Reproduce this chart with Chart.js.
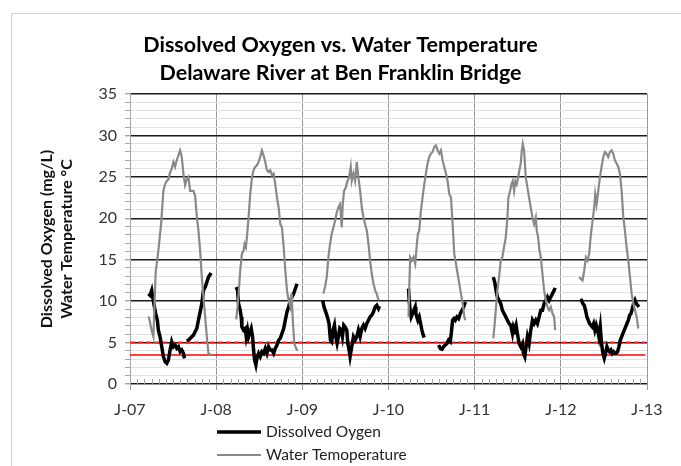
<!DOCTYPE html>
<html><head><meta charset="utf-8">
<script src="https://cdn.jsdelivr.net/npm/chart.js@4.4.1/dist/chart.umd.min.js"></script>
<style>html,body{margin:0;padding:0;background:#fff}</style>
</head><body>
<canvas id="c" width="681" height="466" style="width:681px;height:466px;display:block"></canvas>
<script>
// x values are months since January 2007
const yearLabels = ['J-07','J-08','J-09','J-10','J-11','J-12','J-13'];
const seriesNames = ['Dissolved Oygen','Water Temoperature'];
const refLow = 3.5, refHigh = 5;

const wt2007 = [[2.50,8.1],[2.65,8.0],[3.00,6.5],[3.26,5.7],[3.45,10.5],[3.58,13.5],[3.95,16.1],[4.33,19.3],[4.65,23.3],[4.88,24.1],[5.12,24.5],[5.35,24.7],[5.58,25.5],[5.81,26.0],[6.05,26.8],[6.28,26.2],[6.51,27.0],[6.74,27.6],[6.98,28.2],[7.21,27.4],[7.44,25.4],[7.67,24.0],[7.91,24.7],[8.14,25.0],[8.37,23.3],[8.84,23.3],[9.07,22.7],[9.30,20.3],[9.53,18.5],[9.77,16.1],[10.00,12.9],[10.23,10.5],[10.47,8.1],[10.70,5.7],[10.93,3.7],[11.30,3.5]];
const wt2008 = [[14.79,7.8],[14.98,9.3],[15.16,11.3],[15.35,13.7],[15.58,15.7],[15.81,16.1],[15.95,16.9],[16.14,16.5],[16.28,17.7],[16.51,20.1],[16.74,22.9],[16.98,24.9],[17.21,25.8],[17.44,26.2],[17.67,26.4],[17.91,26.8],[18.14,27.4],[18.37,28.2],[18.60,27.6],[18.84,26.8],[19.07,25.8],[19.30,25.6],[19.53,25.8],[19.77,25.2],[20.00,25.4],[20.23,24.1],[20.47,22.5],[20.70,21.3],[20.93,19.3],[21.16,18.9],[21.40,16.5],[21.63,13.7],[21.86,11.3],[22.09,10.1],[22.33,9.3],[22.47,10.9],[22.56,9.7],[22.70,7.3],[22.88,4.9],[23.12,4.3],[23.30,4.0]];
const wt2009 = [[26.93,10.9],[27.16,11.7],[27.40,12.9],[27.63,15.3],[27.86,16.9],[28.09,18.1],[28.33,18.9],[28.56,19.7],[28.79,20.7],[29.02,21.3],[29.26,21.7],[29.49,18.9],[29.63,21.7],[29.81,23.3],[30.05,23.7],[30.28,24.5],[30.51,24.9],[30.74,26.2],[30.88,24.5],[31.12,25.4],[31.35,24.5],[31.58,26.8],[31.81,24.9],[32.05,23.3],[32.28,21.3],[32.51,20.1],[32.74,19.3],[32.98,18.5],[33.21,16.9],[33.44,14.9],[33.67,13.3],[33.91,12.1],[34.14,11.3],[34.37,10.9],[34.60,10.1]];
const wt2010 = [[38.79,8.1],[38.88,11.3],[39.02,15.3],[39.26,14.9],[39.49,15.3],[39.72,14.5],[39.95,16.9],[40.09,18.1],[40.28,18.5],[40.51,20.9],[40.74,22.5],[40.98,24.1],[41.21,25.4],[41.44,26.6],[41.67,27.4],[41.91,27.8],[42.14,28.0],[42.37,28.6],[42.60,28.8],[42.84,28.2],[43.07,27.8],[43.30,28.2],[43.53,27.0],[43.77,26.2],[44.00,25.4],[44.23,24.5],[44.47,22.9],[44.70,22.5],[44.93,19.3],[45.16,15.7],[45.40,14.5],[45.63,13.3],[45.86,12.1],[46.09,10.9],[46.33,9.7],[46.56,8.1],[46.70,7.7]];
const wt2011 = [[50.60,5.5],[50.79,7.3],[50.98,9.3],[51.16,11.3],[51.40,12.9],[51.63,14.9],[51.86,15.3],[52.09,16.5],[52.33,17.7],[52.56,20.1],[52.70,22.5],[52.93,23.3],[53.12,24.1],[53.30,24.5],[53.49,23.3],[53.67,24.5],[53.86,24.1],[54.05,24.9],[54.23,25.8],[54.42,26.6],[54.56,28.2],[54.70,29.0],[54.88,28.2],[55.12,24.9],[55.35,23.7],[55.58,22.5],[55.81,21.3],[56.05,20.1],[56.28,19.3],[56.51,20.1],[56.65,18.5],[56.84,17.7],[57.02,16.1],[57.21,15.3],[57.44,13.3],[57.67,11.3],[57.91,10.1],[58.14,9.3],[58.37,8.9],[58.60,9.3],[58.84,8.5],[59.07,8.1],[59.21,6.5]];
const wt2012 = [[62.56,12.9],[62.79,12.7],[63.02,12.5],[63.26,13.7],[63.49,15.3],[63.72,14.9],[63.95,15.7],[64.19,18.1],[64.42,19.7],[64.65,21.3],[64.79,22.9],[64.98,21.7],[65.21,23.3],[65.44,24.9],[65.67,26.2],[65.91,27.4],[66.14,28.0],[66.37,27.8],[66.60,27.4],[66.84,28.0],[67.07,28.2],[67.30,27.8],[67.53,27.0],[67.77,26.6],[68.00,26.2],[68.23,25.4],[68.47,23.3],[68.70,20.1],[68.93,18.5],[69.16,16.5],[69.40,14.9],[69.63,12.9],[69.86,10.9],[70.09,9.7],[70.33,8.9],[70.56,8.1],[70.79,6.7]];

const do2007a = [[2.56,10.9],[2.79,10.7],[3.02,11.3],[3.16,10.5],[3.40,9.3],[3.58,8.5],[3.81,7.7],[3.95,6.5],[4.19,5.7],[4.42,4.5],[4.65,3.3],[4.88,2.7],[5.12,2.5],[5.35,2.9],[5.58,4.1],[5.81,5.1],[6.05,4.5],[6.28,4.7],[6.51,4.3],[6.74,4.5],[6.98,3.9],[7.21,4.1],[7.44,3.7],[7.58,3.1]];
const do2007b = [[7.90,5.2],[8.14,5.3],[8.37,5.5],[8.60,5.7],[8.84,5.9],[9.07,6.3],[9.30,6.7],[9.53,7.7],[9.77,8.7],[10.00,9.7],[10.23,11.3],[10.47,11.7],[10.70,12.3],[10.93,12.9],[11.30,13.4]];
const do2008 = [[14.79,11.7],[14.98,11.3],[15.12,9.7],[15.35,8.9],[15.49,8.1],[15.58,6.9],[15.81,6.5],[16.05,6.7],[16.19,5.7],[16.37,6.5],[16.51,5.7],[16.65,6.1],[16.88,6.7],[17.07,5.7],[17.21,4.1],[17.35,2.9],[17.53,2.3],[17.72,3.3],[17.91,3.7],[18.14,3.3],[18.37,3.9],[18.60,3.7],[18.84,4.3],[19.07,3.7],[19.30,4.5],[19.53,4.1],[19.77,4.1],[20.00,3.7],[20.23,4.3],[20.47,4.7],[20.70,5.3],[20.93,5.5],[21.16,6.1],[21.40,6.7],[21.63,7.7],[21.86,8.7],[22.09,9.3],[22.33,10.1],[22.56,10.5],[22.79,10.9],[23.02,11.5],[23.26,12.1]];
const do2009 = [[26.84,10.1],[27.02,9.3],[27.26,8.7],[27.49,8.1],[27.72,7.3],[27.91,5.3],[28.09,5.1],[28.28,6.5],[28.47,7.1],[28.65,5.7],[28.84,4.9],[29.02,5.7],[29.21,6.7],[29.40,6.5],[29.58,5.7],[29.77,7.1],[29.95,6.9],[30.19,6.5],[30.33,4.9],[30.51,4.1],[30.65,3.3],[30.88,4.5],[31.12,5.7],[31.35,5.3],[31.58,5.7],[31.81,6.5],[32.05,5.7],[32.28,6.7],[32.51,7.1],[32.74,6.7],[32.98,7.3],[33.21,7.7],[33.44,8.1],[33.67,8.3],[33.91,8.7],[34.14,9.3],[34.37,9.5],[34.60,9.1],[34.74,9.4]];
const do2010a = [[38.79,11.5],[38.88,10.1],[39.02,8.9],[39.16,8.1],[39.35,8.5],[39.53,8.9],[39.72,9.3],[39.81,8.5],[39.95,8.1],[40.09,7.7],[40.28,8.1],[40.47,7.3],[40.65,6.5],[40.84,5.9],[40.98,5.6]];
const do2010b = [[42.98,4.7],[43.21,4.3],[43.44,4.2],[43.67,4.5],[43.91,4.7],[44.14,4.9],[44.37,5.3],[44.60,5.1],[44.74,6.1],[44.93,7.7],[45.12,7.9],[45.30,7.7],[45.53,8.1],[45.77,7.9],[46.00,8.5],[46.23,8.9],[46.47,9.3],[46.70,9.9]];
const do2011 = [[50.60,12.9],[50.79,12.3],[50.98,11.3],[51.16,10.5],[51.40,10.1],[51.63,9.7],[51.86,8.9],[52.09,8.5],[52.33,8.1],[52.56,7.7],[52.79,7.3],[53.02,7.1],[53.26,6.1],[53.40,6.9],[53.58,6.5],[53.77,7.1],[53.95,6.1],[54.19,4.9],[54.42,4.5],[54.65,4.9],[54.79,3.7],[54.98,3.3],[55.16,4.5],[55.35,5.7],[55.58,4.9],[55.81,6.5],[56.05,7.7],[56.28,7.3],[56.51,7.7],[56.74,7.3],[56.98,8.1],[57.21,8.9],[57.44,8.9],[57.67,9.7],[57.91,10.1],[58.14,10.5],[58.37,10.1],[58.60,10.5],[58.84,10.9],[59.07,11.3],[59.21,11.6]];
const do2012 = [[62.70,10.1],[62.88,10.1],[63.07,9.7],[63.26,9.5],[63.44,8.9],[63.63,8.1],[63.81,7.7],[64.00,7.3],[64.19,7.1],[64.37,6.9],[64.56,7.3],[64.74,6.5],[64.93,7.1],[65.12,6.5],[65.30,5.7],[65.49,6.9],[65.67,4.9],[65.86,3.7],[66.05,3.1],[66.23,3.7],[66.42,4.5],[66.60,4.1],[66.79,3.9],[66.98,4.1],[67.16,3.7],[67.35,3.9],[67.53,3.7],[67.72,3.7],[67.91,3.9],[68.09,4.5],[68.28,5.3],[68.47,5.7],[68.65,6.1],[68.84,6.5],[69.02,6.9],[69.21,7.3],[69.40,7.7],[69.58,8.3],[69.77,8.5],[69.95,9.1],[70.14,9.7],[70.33,10.1],[70.51,9.7],[70.70,9.5],[70.88,9.3]];

function joinSeasons(chunks) {
  const out = [];
  chunks.forEach((c, i) => {
    if (i > 0) out.push({x: (out[out.length - 1].x + c[0][0]) / 2, y: null});
    c.forEach(p => out.push({x: p[0], y: p[1]}));
  });
  return out;
}
const doData = joinSeasons([do2007a, do2007b, do2008, do2009, do2010a, do2010b, do2011, do2012]);
const wtData = joinSeasons([wt2007, wt2008, wt2009, wt2010, wt2011, wt2012]);
const refStart = 0, refEnd = 71.8;

const FONT = 'Lato, "Open Sans", sans-serif';

const frame = {
  id: 'frame',
  beforeDraw(chart) {
    const c = chart.ctx;
    c.save();
    c.fillStyle = '#fff';
    c.fillRect(0, 0, chart.width, chart.height);
    c.strokeStyle = '#d0d0d0';
    c.lineWidth = 1;
    c.strokeRect(11.5, 13.5, chart.width + 20, chart.height + 20);
    c.restore();
  }
};
const minorTicks = {
  id: 'minorTicks',
  beforeDatasetsDraw(chart) {
    const xs = chart.scales.x, a = chart.chartArea, c = chart.ctx;
    c.save();
    c.strokeStyle = '#a6a6a6';
    c.lineWidth = 1;
    c.beginPath();
    for (let m = 1; m < 72; m++) {
      if (m % 12 === 0) continue;
      const px = Math.round(xs.getPixelForValue(m)) + 0.5;
      c.moveTo(px, a.bottom);
      c.lineTo(px, a.bottom - 5);
    }
    c.stroke();
    c.restore();
  }
};
const bottomLegend = {
  id: 'bottomLegend',
  afterDraw(chart) {
    const c = chart.ctx, a = chart.chartArea;
    const x0 = a.left + 87, x1 = a.left + 131, tx = a.left + 136;
    const rows = [a.bottom + 48, a.bottom + 71];
    c.save();
    [0, 1].forEach(i => {
      const ds = chart.data.datasets[i];
      c.strokeStyle = ds.borderColor;
      c.lineWidth = ds.borderWidth;
      c.beginPath();
      c.moveTo(x0, rows[i]);
      c.lineTo(x1, rows[i]);
      c.stroke();
      c.fillStyle = '#222';
      c.font = '15.5px ' + FONT;
      c.textBaseline = 'middle';
      c.textAlign = 'left';
      c.fillText(ds.label, tx, rows[i]);
    });
    c.restore();
  }
};

new Chart(document.getElementById('c'), {
  type: 'line',
  data: {
    datasets: [
      {label: seriesNames[0], data: doData, borderColor: '#000', borderWidth: 3.5, pointRadius: 0, tension: 0, order: 1},
      {label: seriesNames[1], data: wtData, borderColor: '#898989', borderWidth: 2.2, pointRadius: 0, tension: 0, order: 0},
      {label: 'low', data: [{x: refStart, y: refLow}, {x: refEnd, y: refLow}], borderColor: '#ff0000', borderWidth: 1.5, pointRadius: 0, order: 2},
      {label: 'high', data: [{x: refStart, y: refHigh}, {x: refEnd, y: refHigh}], borderColor: '#ff2020', borderWidth: 2, borderDash: [5, 3], pointRadius: 0, order: 2}
    ]
  },
  options: {
    responsive: false,
    animation: false,
    spanGaps: false,
    layout: {padding: {left: 0, right: 0, top: 0, bottom: 0}},
    plugins: {
      legend: {display: false},
      tooltip: {enabled: false},
      title: {
        display: true,
        text: ['Dissolved Oxygen vs. Water Temperature', 'Delaware River at Ben Franklin Bridge'],
        color: '#000',
        font: {family: FONT, size: 21.5, weight: 'bold', lineHeight: 1.302},
        padding: {top: 31, bottom: 7}
      }
    },
    scales: {
      x: {
        type: 'linear', min: 0, max: 72,
        afterFit(s) { s.height = 82; },
        ticks: {stepSize: 12, padding: 10, color: '#333', font: {family: FONT, size: 16},
          callback: v => yearLabels[Math.round(v / 12)] || ''},
        grid: {color: '#999', lineWidth: 1, tickLength: 6, tickColor: '#999'},
        border: {color: '#999'}
      },
      y: {
        min: 0, max: 35,
        afterFit(s) { s.width = 130; },
        ticks: {stepSize: 1, autoSkip: false, padding: 8, color: '#333', font: {family: FONT, size: 16},
          callback: v => (v % 5 === 0 ? String(v) : '')},
        grid: {
          color: c => (c.tick && c.tick.value % 5 === 0 ? '#1a1a1a' : '#e0e0e0'),
          lineWidth: c => (c.tick && c.tick.value % 5 === 0 ? 1.4 : 1),
          tickLength: 5, tickColor: '#a6a6a6'
        },
        border: {color: '#a6a6a6'},
        title: {display: true, text: ['Dissolved Oxygen (mg/L)', 'Water Temperature °C'], color: '#111',
          font: {family: FONT, size: 16, weight: 'bold', lineHeight: 1.25}, padding: {top: 37, bottom: 0}}
      },
      yRight: {
        position: 'right', display: true, min: 0, max: 35,
        afterFit(s) { s.width = 34; },
        ticks: {display: false},
        grid: {display: false, drawTicks: false},
        border: {display: false}
      }
    }
  },
  plugins: [frame, minorTicks, bottomLegend]
});
</script>
</body></html>
